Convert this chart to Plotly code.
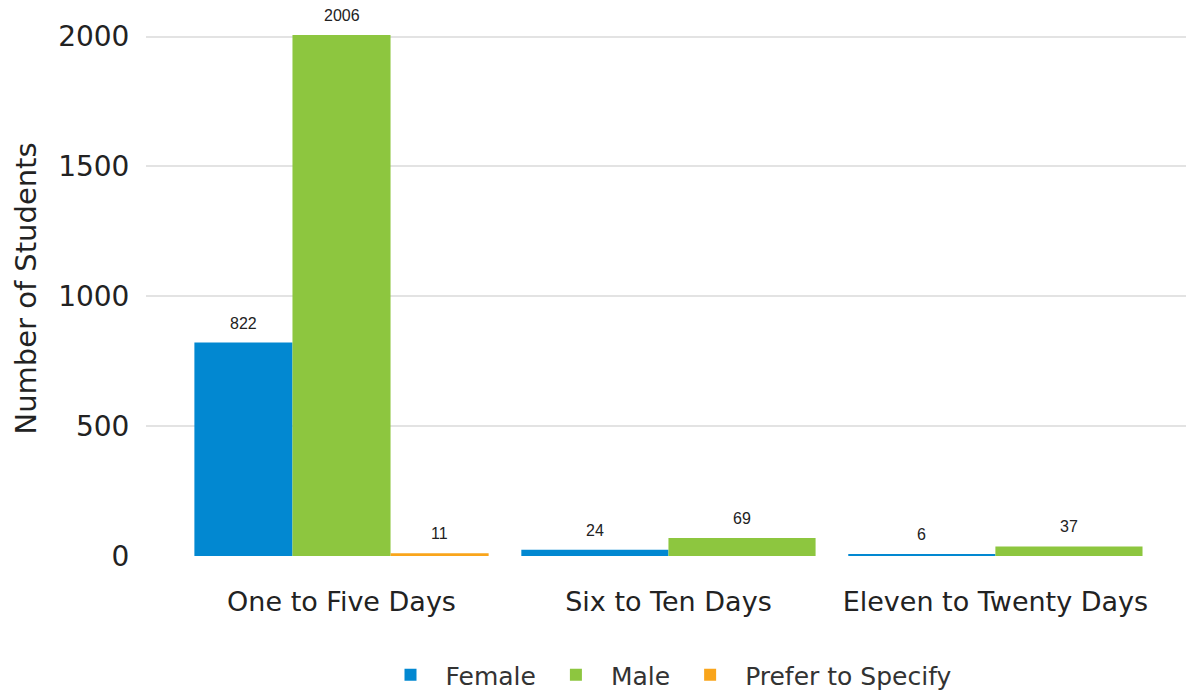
import plotly.graph_objects as go

categories = ["One to Five Days", "Six to Ten Days", "Eleven to Twenty Days"]
series_names = ["Female", "Male", "Prefer to Specify"]
female = [822, 24, 6]
male = [2006, 69, 37]
prefer = [11, None, None]
colors = ["#0288d1", "#8dc63f", "#f9a51b"]
y_ticks = [0, 500, 1000, 1500, 2000]

all_series = [female, male, prefer]
group_w = 0.9
main_font = "DejaVu Sans"

fig = go.Figure()
annotations = []
for s_idx, (name, vals, col) in enumerate(zip(series_names, all_series, colors)):
    xs, ys, ws = [], [], []
    for c in range(len(categories)):
        present = [i for i in range(len(all_series)) if all_series[i][c] is not None]
        if vals[c] is None:
            continue
        n = len(present)
        w = group_w / n
        pos = present.index(s_idx)
        center = c - group_w / 2 + w * (pos + 0.5)
        xs.append(center)
        ys.append(vals[c])
        ws.append(w)
        annotations.append(dict(x=center, y=vals[c], xref="x", yref="y",
                                text=str(vals[c]), showarrow=False,
                                yanchor="bottom", yshift=9,
                                font=dict(family="Liberation Sans, Arial", size=16, color="#222")))
    fig.add_trace(go.Bar(x=xs, y=ys, width=ws, name=name,
                         marker=dict(color=col, line=dict(width=0))))

fig.update_layout(
    width=1186, height=698,
    margin=dict(l=146, r=0, t=21, b=138),
    paper_bgcolor="white", plot_bgcolor="white",
    barmode="overlay",
    font=dict(family=main_font, color="#222"),
    annotations=annotations,
    showlegend=True,
    legend=dict(orientation="h", x=0.5, xanchor="center", y=-0.223, yanchor="middle",
                font=dict(size=25, color="#333", family=main_font), itemwidth=60, tracegroupgap=0,
                traceorder="normal"),
    xaxis=dict(range=[-0.598, 2.583], tickvals=list(range(len(categories))),
               ticktext=categories, showgrid=False, zeroline=False,
               ticks="outside", ticklen=22, tickcolor="rgba(0,0,0,0)",
               tickfont=dict(size=27, color="#222", family=main_font)),
    yaxis=dict(range=[0, 2060], tickvals=y_ticks, showgrid=True,
               gridcolor="#e3e3e3", gridwidth=2, zeroline=False,
               ticks="outside", ticklen=10, tickcolor="rgba(0,0,0,0)",
               tickfont=dict(size=28, color="#222", family=main_font),
               title=dict(text="Number of Students", font=dict(size=29, color="#222", family=main_font), standoff=12)),
)

fig.write_html("out.html")
